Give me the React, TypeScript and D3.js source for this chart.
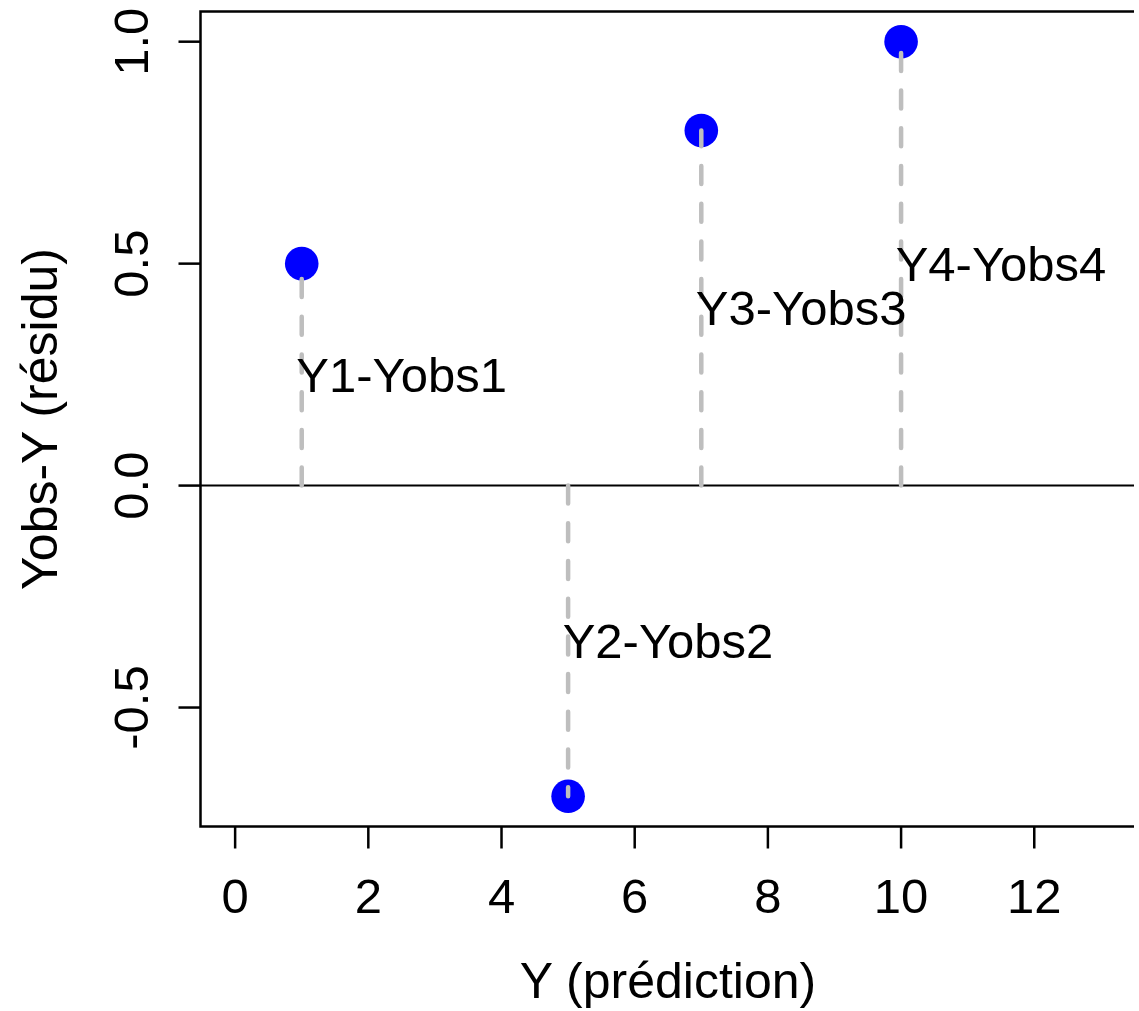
import React, { useEffect, useRef } from "react";
import * as d3 from "d3";

// data
const predictions = [1, 5, 7, 10];
const residuals = [0.5, -0.7, 0.8, 1.0];
const labels = ["Y1-Yobs1", "Y2-Yobs2", "Y3-Yobs3", "Y4-Yobs4"];
const xTicks = [0, 2, 4, 6, 8, 10, 12];
const yTicks = [-0.5, 0.0, 0.5, 1.0];
const xLimits = [0, 13];
const yLimits = [-0.7, 1.0];

const W = 1139;
const H = 1011;
const FONT = "'Liberation Sans', Arial, Helvetica, sans-serif";

function ResidualPlot() {
  const svgRef = useRef<SVGSVGElement>(null);

  useEffect(() => {
    const svg = d3.select(svgRef.current);
    svg.selectAll("*").remove();

    // R style 4% padding
    const padX = (xLimits[1] - xLimits[0]) * 0.04;
    const padY = (yLimits[1] - yLimits[0]) * 0.04;
    const x = d3.scaleLinear().domain([xLimits[0] - padX, xLimits[1] + padX]).range([200.5, 1135.5]);
    const y = d3.scaleLinear().domain([yLimits[0] - padY, yLimits[1] + padY]).range([826.5, 11.5]);

    const [x0, x1] = x.range();
    const [y0, y1] = y.range();

    // the reference is cropped just before the right border
    svg.append("clipPath").attr("id", "crop")
      .append("rect").attr("x", 0).attr("y", 0).attr("width", 1134).attr("height", H);

    // box
    svg.append("rect")
      .attr("clip-path", "url(#crop)")
      .attr("x", x0).attr("y", y1)
      .attr("width", x1 - x0).attr("height", y0 - y1)
      .attr("fill", "none").attr("stroke", "#000").attr("stroke-width", 2.5);

    // x axis
    const xAxis = svg.append("g").attr("transform", `translate(0, ${y0})`);
    xAxis.selectAll("line.tick").data(xTicks).join("line")
      .attr("class", "tick")
      .attr("x1", d => x(d)).attr("x2", d => x(d))
      .attr("y1", 0).attr("y2", 22)
      .attr("stroke", "#000").attr("stroke-width", 2.5);
    xAxis.selectAll("text").data(xTicks).join("text")
      .attr("x", d => x(d)).attr("y", 86)
      .attr("text-anchor", "middle")
      .style("font-family", FONT).style("font-size", "49px")
      .text(d => String(d));

    // y axis
    const yAxis = svg.append("g").attr("transform", `translate(${x0}, 0)`);
    yAxis.selectAll("line.tick").data(yTicks).join("line")
      .attr("class", "tick")
      .attr("y1", d => y(d)).attr("y2", d => y(d))
      .attr("x1", 0).attr("x2", -22)
      .attr("stroke", "#000").attr("stroke-width", 2.5);
    yAxis.selectAll("text").data(yTicks).join("text")
      .attr("transform", d => `translate(-53, ${y(d)}) rotate(-90)`)
      .attr("text-anchor", "middle")
      .style("font-family", FONT).style("font-size", "49px")
      .text(d => d3.format(".1f")(d).replace("−", "-"));

    // axis titles
    svg.append("text")
      .attr("x", (x0 + x1) / 2).attr("y", 998)
      .attr("text-anchor", "middle")
      .style("font-family", FONT).style("font-size", "50px")
      .text("Y (prédiction)");
    svg.append("text")
      .attr("transform", `translate(57, ${(y0 + y1) / 2}) rotate(-90)`)
      .attr("text-anchor", "middle")
      .style("font-family", FONT).style("font-size", "50px")
      .text("Yobs-Y (résidu)");

    // abline h=0
    svg.append("line")
      .attr("x1", x0).attr("x2", 1134)
      .attr("y1", y(0)).attr("y2", y(0))
      .attr("stroke", "#000").attr("stroke-width", 2);

    const pts = predictions.map((p, i) => ({ p, r: residuals[i], label: labels[i] }));

    // points
    svg.selectAll("circle.pt").data(pts).join("circle")
      .attr("class", "pt")
      .attr("cx", d => x(d.p)).attr("cy", d => y(d.r))
      .attr("r", 16.8)
      .attr("fill", "#0000FF");

    // residual segments
    svg.selectAll("line.seg").data(pts).join("line")
      .attr("class", "seg")
      .attr("x1", d => x(d.p)).attr("x2", d => x(d.p))
      .attr("y1", y(0)).attr("y2", d => y(d.r))
      .attr("stroke", "#BEBEBE").attr("stroke-width", 4.5)
      .attr("stroke-linecap", "round")
      .attr("stroke-dasharray", "18,19.7");

    // labels
    svg.selectAll("text.lab").data(pts).join("text")
      .attr("class", "lab")
      .attr("x", d => x(d.p + 1.5)).attr("y", d => y(d.r / 2) + 17)
      .attr("text-anchor", "middle")
      .style("font-family", FONT).style("font-size", "49px")
      .text(d => d.label);
  }, []);

  return <svg ref={svgRef} width={W} height={H} style={{ display: "block" }} />;
}

export default function App() {
  return (
    <div style={{ position: "absolute", left: 0, top: 0, width: W, height: H, overflow: "hidden", background: "#fff" }}>
      <ResidualPlot />
    </div>
  );
}
